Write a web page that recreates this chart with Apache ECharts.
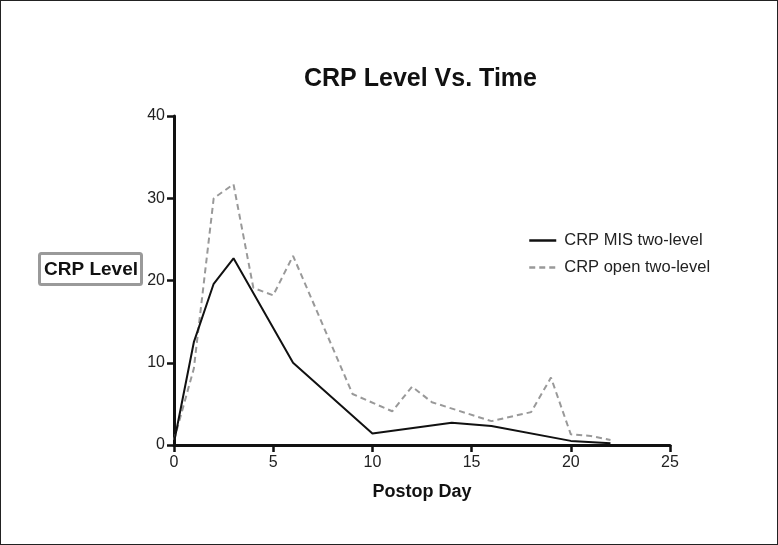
<!DOCTYPE html>
<html>
<head>
<meta charset="utf-8">
<script src="https://cdn.jsdelivr.net/npm/echarts@6/dist/echarts.min.js"></script>
<style>
  html, body { margin: 0; padding: 0; background: #fff; }
  #chart { width: 778px; height: 545px; box-sizing: border-box; border: 1px solid #222; }
</style>
</head>
<body>
<div id="chart"></div>
<script>
// postop days and CRP values
const misDays = [0, 1, 2, 3, 6, 10, 14, 16, 20, 22]
const misCrp = [0.3, 12.5, 19.6, 22.7, 10.0, 1.4, 2.7, 2.3, 0.5, 0.2]

const openDays = [0, 1, 2, 3, 4, 5, 6, 9, 11, 12, 13, 16, 18, 19, 20, 21, 22]
const openCrp = [0.6, 9.3, 30.0, 31.7, 19.1, 18.2, 23.0, 6.2, 4.1, 7.1, 5.2, 2.9, 4.0, 8.2, 1.3, 1.1, 0.6]

const seriesNames = ['CRP MIS two-level', 'CRP open two-level']
const xTicks = [0, 5, 10, 15, 20, 25]
const yTicks = [0, 10, 20, 30, 40]

const pairs = (xs, ys) => xs.map((x, i) => [x, ys[i]])

const font = 'Liberation Sans, Arial, Helvetica, sans-serif'

const chart = echarts.init(document.getElementById('chart'))

const option = {
  animation: false,
  title: [
    {
      text: 'CRP Level Vs. Time',
      left: 303,
      top: 66,
      textStyle: { fontFamily: font, fontSize: 25, fontWeight: 'bold', color: '#111' },
      padding: 0
    },
    {
      text: 'CRP Level',
      left: 38,
      top: 252,
      padding: [7, 4, 6, 5],
      borderColor: '#9a9a9a',
      borderWidth: 3,
      borderRadius: 2,
      textStyle: { fontFamily: font, fontSize: 19, fontWeight: 'bold', color: '#111' }
    }
  ],
  legend: {
    orient: 'vertical',
    left: 527,
    top: 231,
    padding: 0,
    itemWidth: 27,
    itemHeight: 12,
    itemGap: 10,
    itemStyle: { color: 'rgba(0,0,0,0)', borderWidth: 0, opacity: 0 },
    lineStyle: { width: 2.5 },
    textStyle: { fontFamily: font, fontSize: 16.5, color: '#222', padding: [0, 0, 0, 3] },
    data: seriesNames
  },
  grid: {
    left: 173,
    right: 107,
    top: 115,
    bottom: 99
  },
  xAxis: {
    type: 'value',
    min: xTicks[0],
    max: xTicks[xTicks.length - 1],
    interval: 5,
    name: 'Postop Day',
    nameLocation: 'middle',
    nameGap: 38,
    nameTextStyle: { fontFamily: font, fontSize: 18, fontWeight: 'bold', color: '#111' },
    axisLine: { lineStyle: { color: '#111', width: 3 } },
    axisTick: { length: 7, lineStyle: { color: '#111', width: 2.5 } },
    axisLabel: { fontFamily: font, fontSize: 16, color: '#222', margin: 10 },
    splitLine: { show: false }
  },
  yAxis: {
    type: 'value',
    min: yTicks[0],
    max: yTicks[yTicks.length - 1],
    interval: 10,
    axisLine: { show: true, lineStyle: { color: '#111', width: 3 } },
    axisTick: { show: true, length: 7, lineStyle: { color: '#111', width: 2.5 } },
    axisLabel: { fontFamily: font, fontSize: 16, color: '#222', margin: 9 },
    splitLine: { show: false }
  },
  series: [
    {
      name: seriesNames[0],
      type: 'line',
      data: pairs(misDays, misCrp),
      symbol: 'none',
      lineStyle: { color: '#111', width: 2 },
      itemStyle: { color: '#111' },
      z: 3
    },
    {
      name: seriesNames[1],
      type: 'line',
      data: pairs(openDays, openCrp),
      symbol: 'none',
      lineStyle: { color: '#999', width: 2, type: [6, 4] },
      itemStyle: { color: '#999' },
      z: 2
    }
  ]
}

chart.setOption(option)
</script>
</body>
</html>
